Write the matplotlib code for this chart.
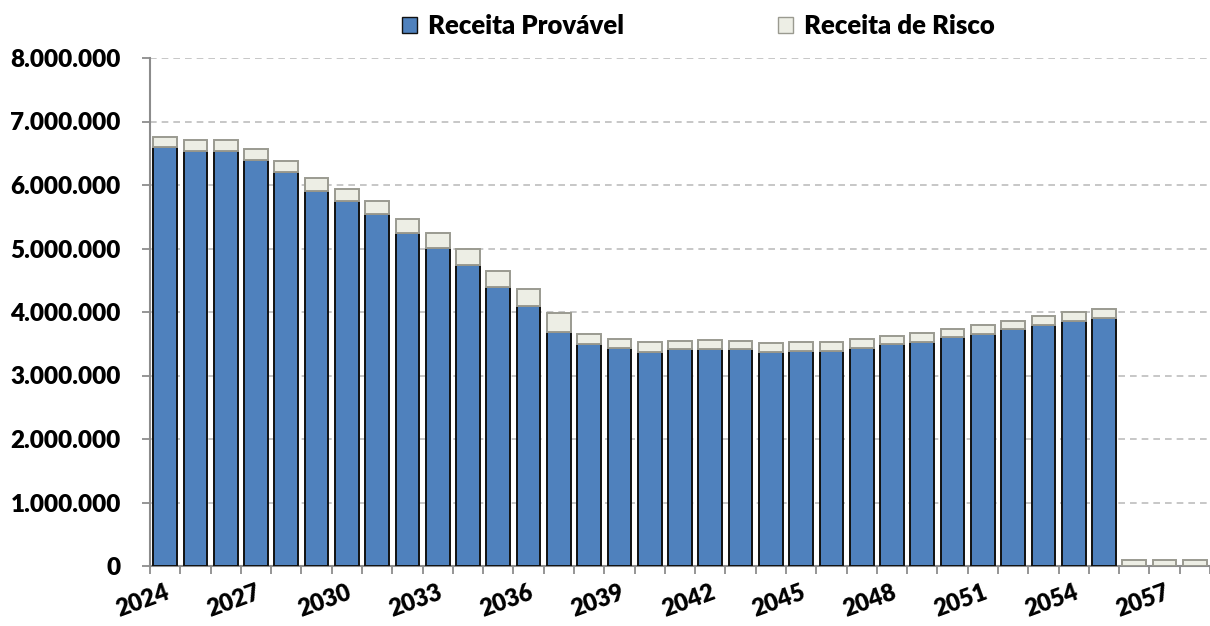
import numpy as np
import matplotlib
matplotlib.use("Agg")
import matplotlib.pyplot as plt
from matplotlib.patches import Patch
from matplotlib.ticker import FuncFormatter, MultipleLocator

# data (R$ per year)
years = list(range(2024, 2059))
receita_provavel = [6.60, 6.54, 6.54, 6.39, 6.20, 5.91, 5.75, 5.54, 5.25, 5.01,
                    4.74, 4.39, 4.09, 3.69, 3.50, 3.43, 3.37, 3.41, 3.42, 3.41,
                    3.37, 3.38, 3.39, 3.44, 3.49, 3.53, 3.60, 3.66, 3.73, 3.79,
                    3.86, 3.91, 0.0, 0.0, 0.0]
receita_total = [6.76, 6.71, 6.71, 6.57, 6.38, 6.11, 5.94, 5.75, 5.47, 5.24,
                 4.99, 4.64, 4.36, 3.98, 3.65, 3.58, 3.52, 3.55, 3.56, 3.55,
                 3.51, 3.52, 3.53, 3.58, 3.62, 3.67, 3.73, 3.80, 3.86, 3.93,
                 4.00, 4.04, 0.09, 0.09, 0.09]

prov = np.array(receita_provavel) * 1e6
risco = np.array(receita_total) * 1e6 - prov

plt.rcParams['font.family'] = ['Lato', 'DejaVu Sans']

fig = plt.figure(figsize=(12.1, 6.26), dpi=100)
ax = fig.add_axes([150 / 1210, 1 - 566 / 626, 1 - 150 / 1210, (566 - 58) / 626])

x = np.arange(len(years))
blue = '#4F81BD'
light = '#EDEEE5'
ax.bar(x, prov, width=0.78, color=blue, edgecolor='#111111', linewidth=1.4, zorder=3)
ax.bar(x, risco, bottom=prov, width=0.78, color=light, edgecolor='#9A9A90',
       linewidth=1.4, zorder=3)

ax.set_ylim(0, 8e6)
ax.set_xlim(-0.5, 34.25)
ax.yaxis.set_major_locator(MultipleLocator(1e6))
ax.yaxis.set_major_formatter(FuncFormatter(lambda v, p: f"{int(v):,}".replace(",", ".")))
ax.grid(axis='y', color='#BDBDBD', linestyle=(0, (4, 3)), linewidth=1.2, zorder=0)

for s in ['top', 'right']:
    ax.spines[s].set_visible(False)
for s in ['left', 'bottom']:
    ax.spines[s].set_color('#8C8C8C')
    ax.spines[s].set_linewidth(1.5)

ax.tick_params(axis='y', length=6, width=1.3, color='#8C8C8C', labelsize=17.5, pad=15)
for lab in ax.get_yticklabels():
    lab.set_fontweight('heavy')

lab_idx = list(range(0, len(years), 3))
ax.set_xticks(lab_idx)
ax.set_xticklabels([str(years[i]) for i in lab_idx], rotation=20, ha='right',
                   rotation_mode='anchor', fontsize=17, fontweight='heavy')
ax.tick_params(axis='x', which='major', length=0, pad=11)
ax.set_xticks(np.arange(-0.5, len(years)), minor=True)
ax.tick_params(axis='x', which='minor', length=6, width=1.3, color='#8C8C8C')

handles = [Patch(facecolor=blue, edgecolor='#111111', label='Receita Provável'),
           Patch(facecolor=light, edgecolor='#9A9A90', label='Receita de Risco')]
leg = fig.legend(handles=handles, loc='center', bbox_to_anchor=(0.577, 0.958), ncol=2,
                 frameon=False, prop={'size': 18.5, 'weight': 'heavy'},
                 handlelength=0.6, handleheight=0.6, handletextpad=0.4,
                 columnspacing=6.0)

fig.savefig('out.png', dpi=100)
